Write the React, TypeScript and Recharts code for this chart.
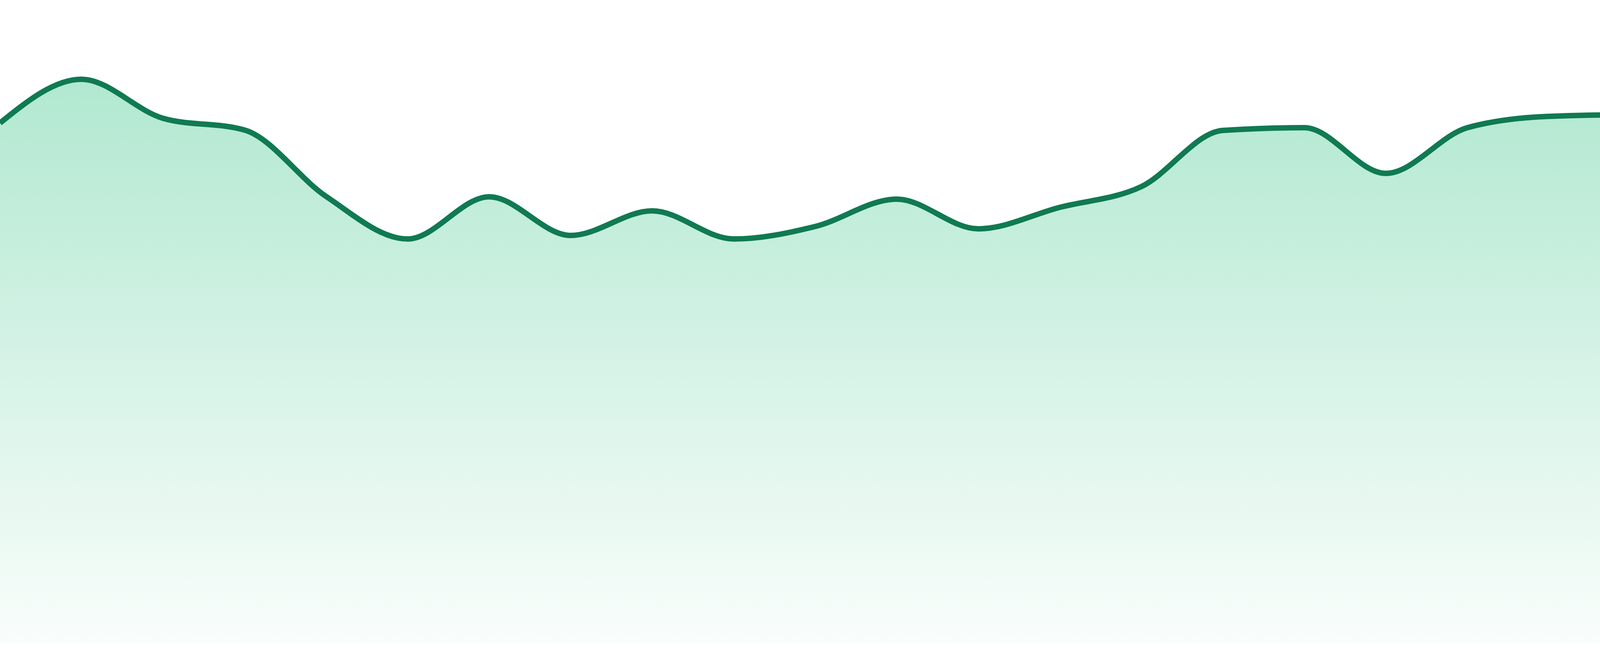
import { AreaChart, Area, XAxis, YAxis } from 'recharts';

// 24 evenly spaced points, no visible axes
const labels = [
  '01', '02', '03', '04', '05', '06', '07', '08', '09', '10', '11', '12',
  '13', '14', '15', '16', '17', '18', '19', '20', '21', '22', '23', '24',
];
const values = [
  133.0, 144.2, 134.2, 131.2, 114.2, 103.3, 114.1, 104.2, 110.5, 103.3, 106.5, 113.5,
  105.9, 111.4, 116.7, 131.1, 131.8, 120.1, 131.8, 134.7, 135.1, 130.7, 142.5, 141.7,
];

const data = labels.map((label, i) => ({ label, value: values[i] }));

export default function App() {
  return (
    <div style={{ position: 'absolute', left: 0, top: 0, width: 4800, height: 1680 }}>
      <AreaChart
        width={4800}
        height={1680}
        data={data}
        margin={{ top: 45, right: 0, bottom: 35, left: 0 }}
      >
        <defs>
          <linearGradient id="gradFill" x1="0" y1="0" x2="0" y2="1">
            <stop offset="0%" stopColor="#3cc68a" stopOpacity={0.4} />
            <stop offset="100%" stopColor="#3cc68a" stopOpacity={0.03} />
          </linearGradient>
        </defs>
        <XAxis dataKey="label" hide padding={{ left: 0, right: 0 }} />
        <YAxis hide domain={[0, 160]} />
        <Area
          type="monotone"
          dataKey="value"
          stroke="#107a52"
          strokeWidth={14}
          fill="url(#gradFill)"
          fillOpacity={1}
          dot={false}
          activeDot={false}
          isAnimationActive={false}
        />
      </AreaChart>
    </div>
  );
}
